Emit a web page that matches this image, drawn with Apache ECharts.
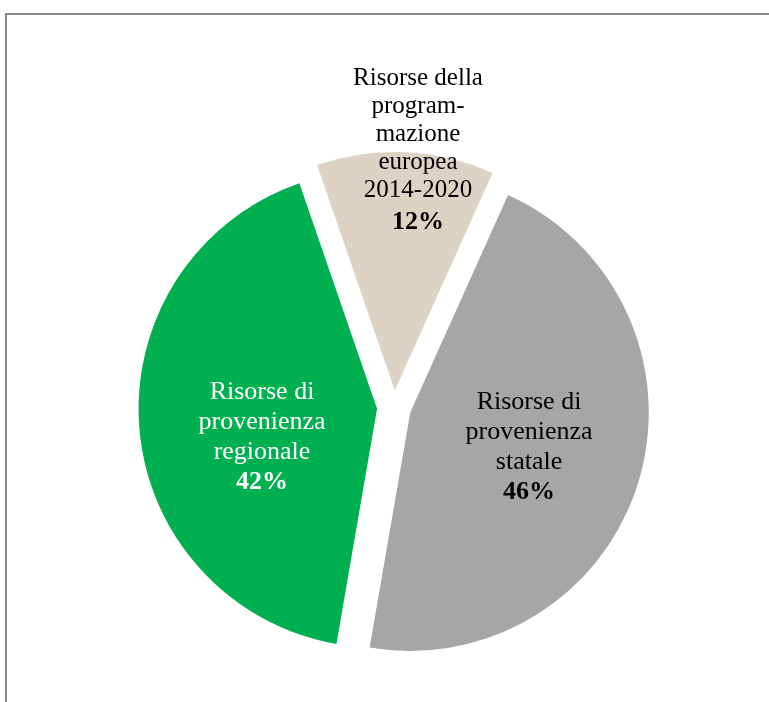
<!DOCTYPE html>
<html>
<head>
<meta charset="utf-8">
<script src="https://cdn.jsdelivr.net/npm/echarts@6/dist/echarts.min.js"></script>
<style>
  html, body { margin: 0; padding: 0; background: #fff; }
  #frame {
    position: absolute; left: 5px; top: 13px; right: 0; bottom: 0;
    border-top: 2px solid #888; border-left: 2px solid #888;
  }
  #chart { position: absolute; left: 0; top: 0; width: 769px; height: 702px; }
</style>
</head>
<body>
<div id="frame"></div>
<div id="chart"></div>
<script>
// dati del grafico (ordine orario a partire dalla fetta europea)
const categories = [
  'Risorse della\nprogram-\nmazione\neuropea\n2014-2020',
  'Risorse di\nprovenienza\nstatale',
  'Risorse di\nprovenienza\nregionale'
]
const values = [12, 46, 42]
const colors = ['#DDD3C4', '#A6A6A6', '#00B050']
const labelColors = ['#000', '#000', '#fff']

// centro delle etichette (layout)
const labelCenters = [[418, 152], [529, 447], [262, 437]]

const chart = echarts.init(document.getElementById('chart'))

// etichette come testo grafico (labelLayout non sposta le etichette delle fette selezionate)
const labels = categories.map((name, i) => ({
  type: 'text',
  x: labelCenters[i][0],
  y: labelCenters[i][1],
  z: 100,
  style: {
    text: `{t|${name}}\n{b|${values[i]}%}`,
    align: 'center',
    verticalAlign: 'middle',
    rich: {
      t: {
        fontFamily: 'Liberation Serif',
        fontSize: i === 0 ? 25 : 26,
        lineHeight: i === 0 ? 28 : 30,
        fill: labelColors[i],
        align: 'center'
      },
      b: {
        fontFamily: 'Liberation Serif',
        fontSize: 26,
        fontWeight: 'bold',
        lineHeight: i === 0 ? 36 : 30,
        fill: labelColors[i],
        align: 'center'
      }
    }
  }
}))

chart.setOption({
  animation: false,
  graphic: labels,
  series: [{
    type: 'pie',
    center: [394, 407.5],
    radius: 238.5,
    startAngle: 109,
    clockwise: true,
    selectedMode: 'multiple',
    selectedOffset: 17,
    emphasis: { disabled: true },
    label: { show: false },
    labelLine: { show: false },
    data: categories.map((name, i) => ({
      name: name,
      value: values[i],
      selected: true,
      itemStyle: { color: colors[i] }
    }))
  }]
})
</script>
</body>
</html>
